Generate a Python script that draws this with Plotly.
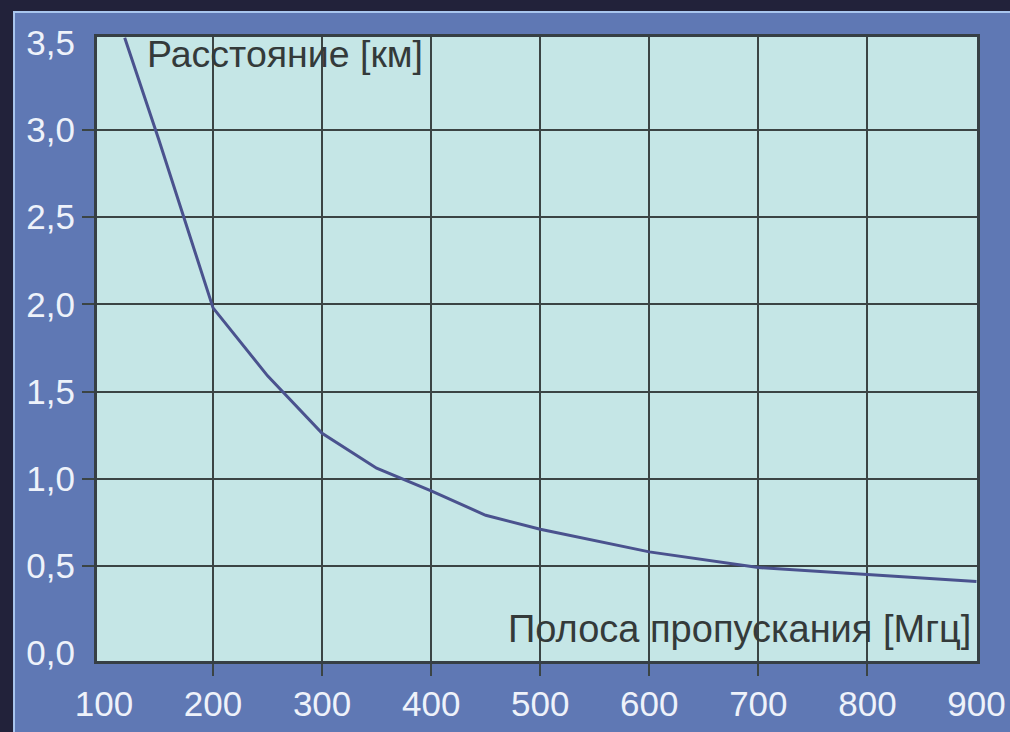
import plotly.graph_objects as go

# Data
bandwidth_mhz = [119, 150, 200, 250, 300, 350, 400, 450, 500, 600, 700, 800, 900]
distance_km = [3.53, 2.95, 1.98, 1.59, 1.26, 1.06, 0.93, 0.79, 0.71, 0.58, 0.49, 0.45, 0.41]

x_tick_vals = [100, 200, 300, 400, 500, 600, 700, 800, 900]
x_tick_text = ["100", "200", "300", "400", "500", "600", "700", "800", "900"]
y_tick_vals = [0.0, 0.5, 1.0, 1.5, 2.0, 2.5, 3.0, 3.5]
y_tick_text = ["0,0", "0,5", "1,0", "1,5", "2,0", "2,5", "3,0", "3,5"]
x_grid_vals = [200, 300, 400, 500, 600, 700, 800]
y_grid_vals = [0.5, 1.0, 1.5, 2.0, 2.5, 3.0]

y_title = "Расстояние [км]"
x_title = "Полоса пропускания [Мгц]"

X_RANGE = [93.6, 900.5]
Y_RANGE = [-0.046, 3.534]

FONT = "Liberation Sans, Arial, Helvetica, sans-serif"
GRID = "#3b4444"
TICK_FONT = dict(family=FONT, size=35, color="#eef2fa")

fig = go.Figure()
fig.add_trace(go.Scatter(
    x=bandwidth_mhz, y=distance_km, mode="lines",
    line=dict(color="#4a528e", width=3),
    xaxis="x", yaxis="y", showlegend=False, hoverinfo="skip",
    cliponaxis=True,
))
# empty trace to host the label axes
fig.add_trace(go.Scatter(x=[], y=[], xaxis="x2", yaxis="y2",
                         showlegend=False, hoverinfo="skip"))

fig.update_layout(
    width=1010, height=732, autosize=False,
    margin=dict(l=97, r=33, t=37, b=71),
    paper_bgcolor="#22223a",
    plot_bgcolor="#c5e6e6",
    xaxis=dict(
        range=X_RANGE, tickmode="array", tickvals=x_grid_vals,
        showticklabels=False, showgrid=True, gridcolor=GRID, gridwidth=2,
        ticks="outside", ticklen=12, tickwidth=2, tickcolor=GRID,
        showline=True, linecolor="#363f44", linewidth=3, mirror=True,
        zeroline=False, fixedrange=True, automargin=False,
    ),
    yaxis=dict(
        range=Y_RANGE, tickmode="array", tickvals=y_grid_vals,
        showticklabels=False, showgrid=True, gridcolor=GRID, gridwidth=2,
        ticks="outside", ticklen=12, tickwidth=2, tickcolor=GRID,
        showline=True, linecolor="#363f44", linewidth=3, mirror=True,
        zeroline=False, fixedrange=True, automargin=False,
    ),
    xaxis2=dict(
        overlaying="x", range=X_RANGE, tickmode="array",
        tickvals=x_tick_vals, ticktext=x_tick_text, tickfont=TICK_FONT,
        showgrid=False, zeroline=False, showline=False, ticks="",
        ticklabelstandoff=19, side="bottom", fixedrange=True,
        ticklabeloverflow="allow", automargin=False,
    ),
    yaxis2=dict(
        overlaying="y", range=Y_RANGE, tickmode="array",
        tickvals=y_tick_vals, ticktext=y_tick_text, tickfont=TICK_FONT,
        showgrid=False, zeroline=False, showline=False, ticks="",
        ticklabelstandoff=21, side="left", fixedrange=True,
        ticklabeloverflow="allow", automargin=False,
    ),
    shapes=[
        dict(type="rect", xref="paper", yref="paper",
             x0=-0.0943, x1=1.06, y0=-0.14, y1=1.0401,
             fillcolor="#5f78b4", line=dict(color="#a9c6ee", width=2),
             layer="below"),
        dict(type="rect", xref="paper", yref="paper",
             x0=0, x1=1, y0=0, y1=1,
             fillcolor="#c5e6e6", line=dict(width=0), layer="below"),
    ],
    annotations=[
        dict(text=y_title, xref="paper", yref="paper", x=0.0545, y=0.972,
             xanchor="left", yanchor="middle", showarrow=False,
             font=dict(family=FONT, size=37.5, color="#343a3a")),
        dict(text=x_title, xref="paper", yref="paper", x=0.9955, y=0.051,
             xanchor="right", yanchor="middle", showarrow=False,
             font=dict(family=FONT, size=38, color="#343a3a")),
    ],
)

fig.write_html(
    "out.html",
    config={"displayModeBar": False, "responsive": False},
    post_script="document.body.style.margin='0';"
                "document.body.style.overflow='hidden';",
)
